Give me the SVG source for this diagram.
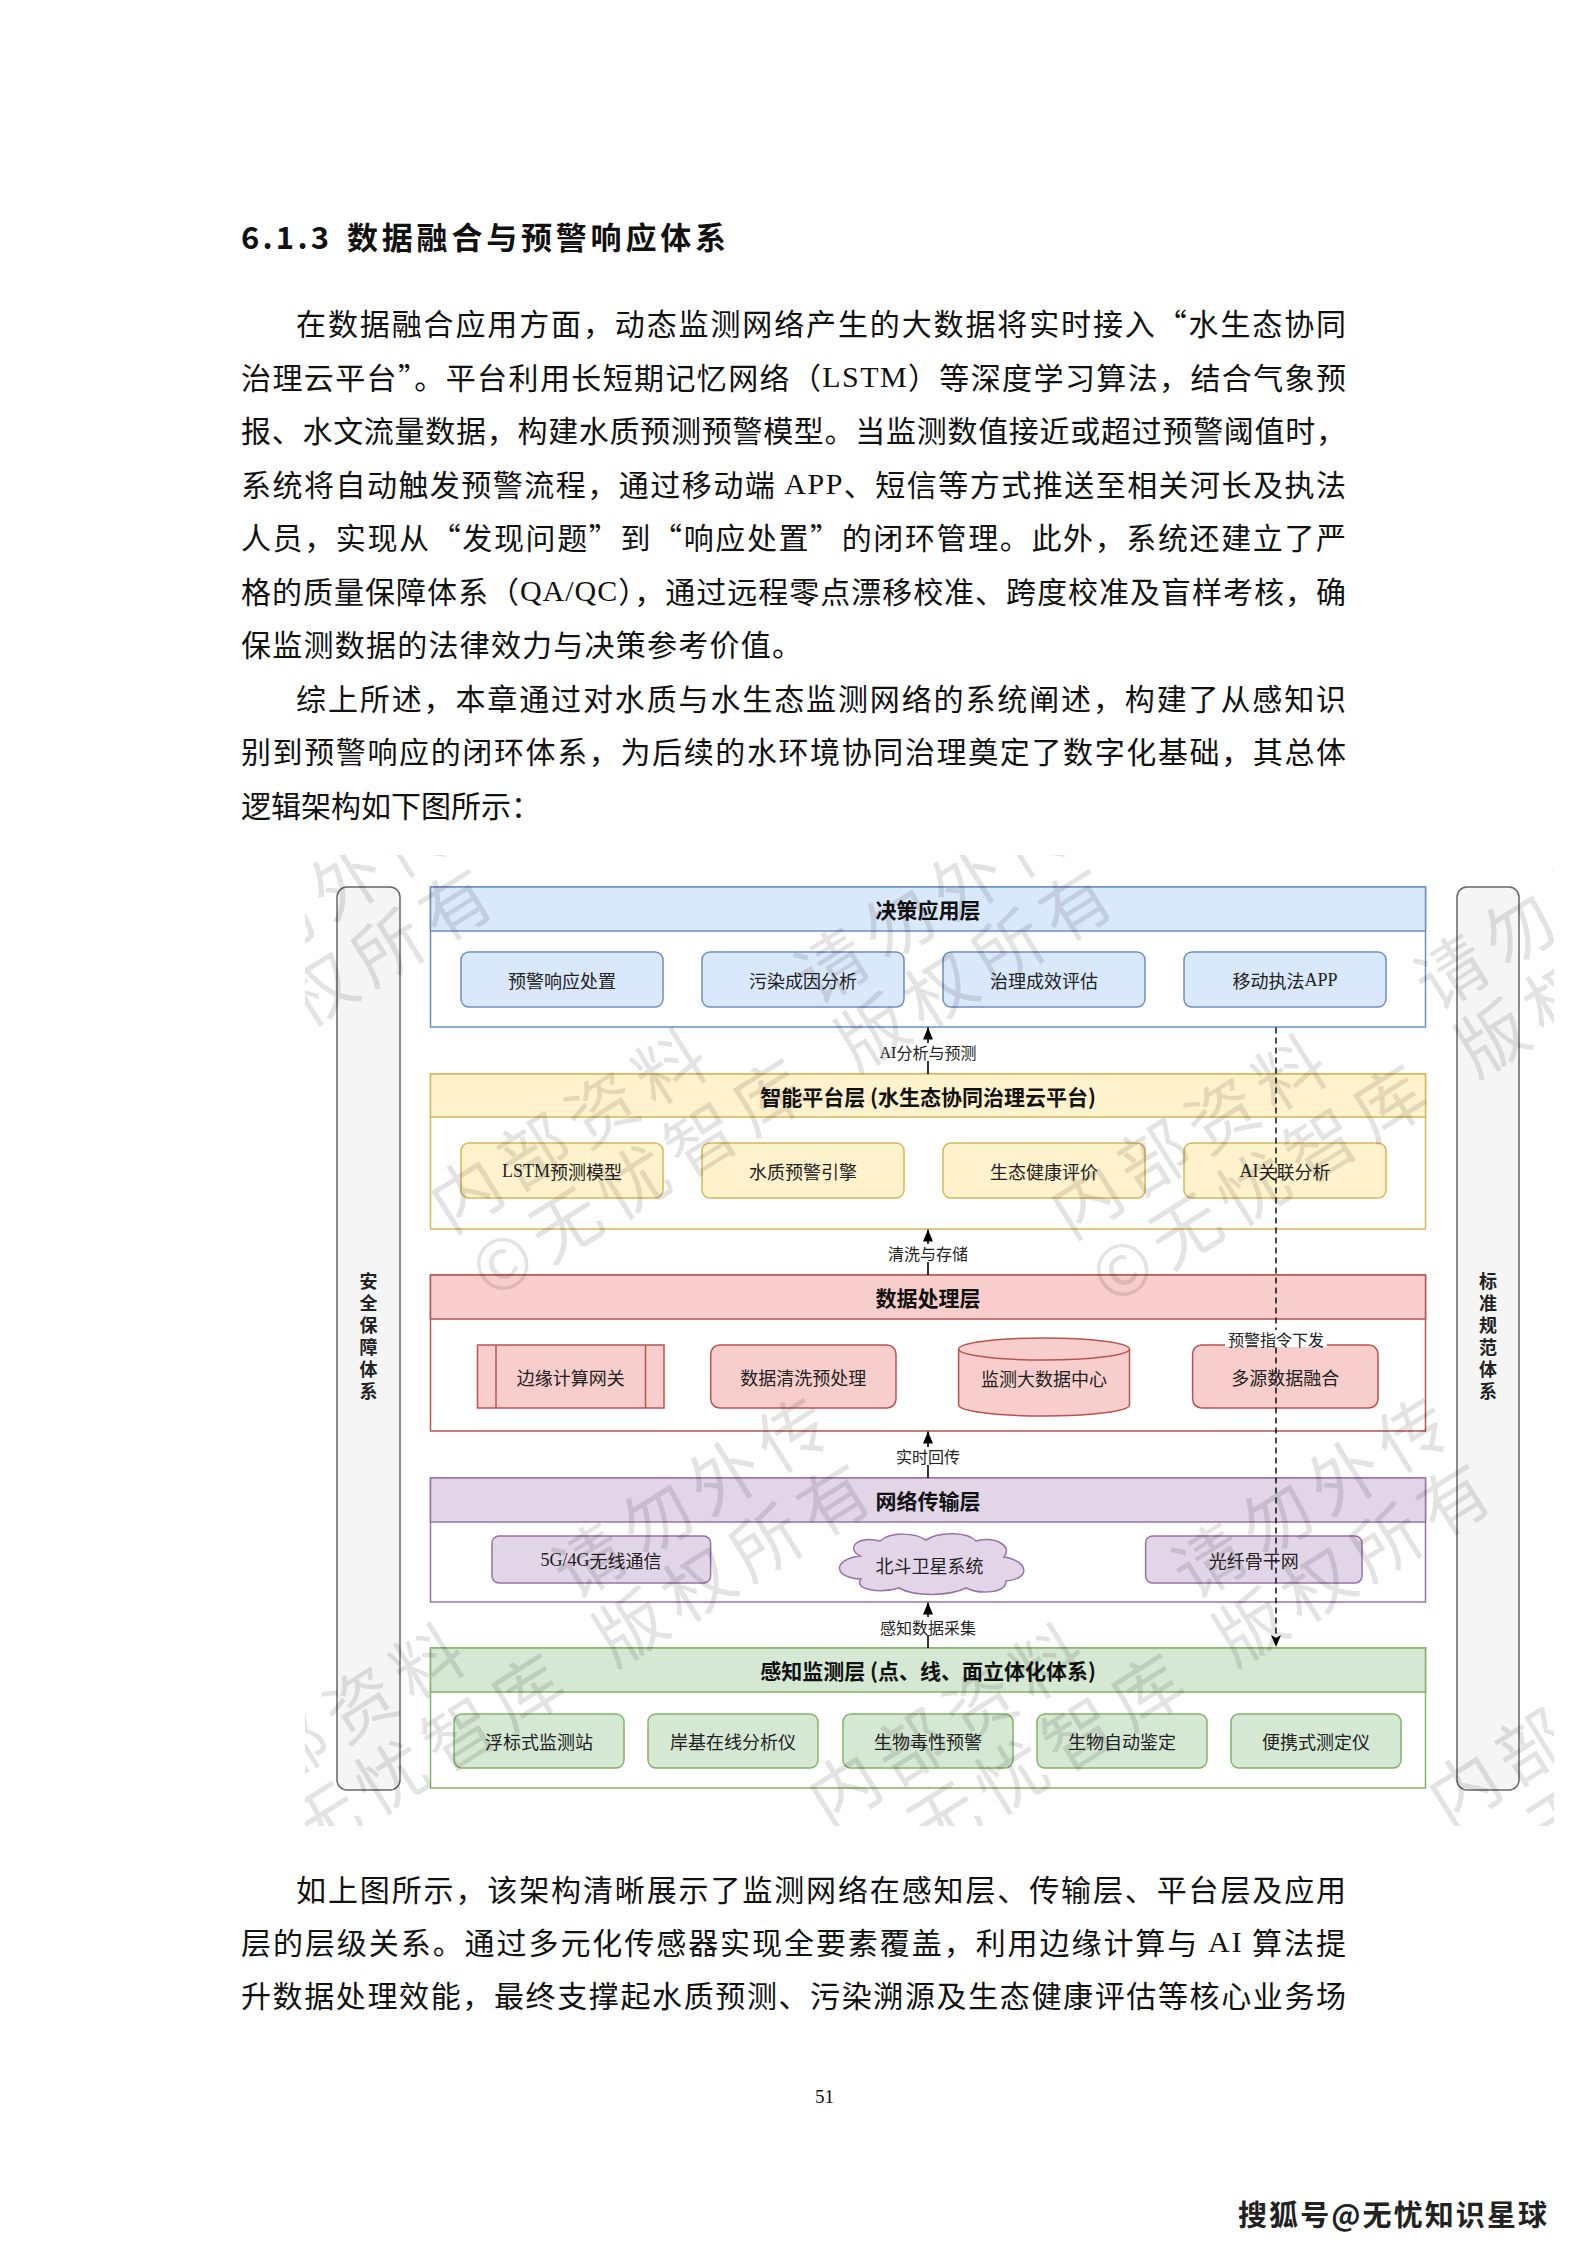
<svg xmlns="http://www.w3.org/2000/svg" width="1587" height="2245" viewBox="0 0 1587 2245">
<style>
.body{font-family:"Noto Sans CJK SC",sans-serif;font-size:30px;fill:#111;dominant-baseline:central}
.lat{font-family:"Liberation Serif",serif}
.head{font-family:"Noto Sans CJK SC",sans-serif;font-size:31px;font-weight:bold;fill:#111;dominant-baseline:central}
.t{font-family:"Noto Sans CJK SC",sans-serif;font-size:18px;fill:#222;text-anchor:middle;dominant-baseline:central}
.ttl{font-family:"Noto Sans CJK SC",sans-serif;font-size:21px;font-weight:bold;fill:#111;text-anchor:middle;dominant-baseline:central}
.lbl{font-family:"Noto Sans CJK SC",sans-serif;font-size:16px;fill:#222;text-anchor:middle;dominant-baseline:central}
.vt{font-family:"Noto Sans CJK SC",sans-serif;font-size:18px;font-weight:bold;fill:#222;text-anchor:middle;writing-mode:vertical-rl;letter-spacing:4px}
.bar{fill:#f5f5f5;stroke:#666;stroke-width:1.5}
.bH{fill:#dae8fc;stroke:#6c8ebf;stroke-width:1.5}
.bB{fill:#fff;stroke:#6c8ebf;stroke-width:1.5}
.yH{fill:#fff2cc;stroke:#d6b656;stroke-width:1.5}
.yB{fill:#fff;stroke:#d6b656;stroke-width:1.5}
.rH{fill:#f8cecc;stroke:#b85450;stroke-width:1.5}
.rB{fill:#fff;stroke:#b85450;stroke-width:1.5}
.pH{fill:#e1d5e7;stroke:#9673a6;stroke-width:1.5}
.pB{fill:#fff;stroke:#9673a6;stroke-width:1.5}
.gH{fill:#d5e8d4;stroke:#82b366;stroke-width:1.5}
.gB{fill:#fff;stroke:#82b366;stroke-width:1.5}
.conn{fill:none;stroke:#000;stroke-width:1.6}
.dash{fill:none;stroke:#000;stroke-width:1.4;stroke-dasharray:6 4}
.wm{font-family:"Noto Sans CJK SC",sans-serif;font-size:70px;letter-spacing:10px;fill:#000;fill-opacity:0.11}
</style>
<defs>
<marker id="blk" viewBox="0 0 12 12" refX="12" refY="6" markerWidth="12" markerHeight="12" markerUnits="userSpaceOnUse" orient="auto"><path d="M0,1 L12,6 L0,11 Z" fill="#000"/></marker>
<marker id="cls" viewBox="0 0 12 10" refX="12" refY="5" markerWidth="12" markerHeight="10" markerUnits="userSpaceOnUse" orient="auto"><path d="M0,0 L12,5 L0,10 L3,5 Z" fill="#000"/></marker>
<clipPath id="wmclip"><rect x="305" y="855" width="1249" height="971"/></clipPath>
</defs>
<rect width="1587" height="2245" fill="#fff"/>

<g id="page-text">
<text class="head" x="241" y="235" textLength="88">6.1.3</text>
<text class="head" x="347" y="235" textLength="379">数据融合与预警响应体系</text>
<text class="body" x="296" y="322" textLength="1050">在数据融合应用方面，动态监测网络产生的大数据将实时接入“水生态协同</text>
<text class="body" x="241" y="375.5" textLength="1105">治理云平台”。平台利用长短期记忆网络（<tspan class="lat">LSTM</tspan>）等深度学习算法，结合气象预</text>
<text class="body" x="241" y="429" textLength="1105">报、水文流量数据，构建水质预测预警模型。当监测数值接近或超过预警阈值时，</text>
<text class="body" x="241" y="482.5" textLength="1105">系统将自动触发预警流程，通过移动端 <tspan class="lat">APP</tspan>、短信等方式推送至相关河长及执法</text>
<text class="body" x="241" y="536" textLength="1105">人员，实现从“发现问题”到“响应处置”的闭环管理。此外，系统还建立了严</text>
<text class="body" x="241" y="589.5" textLength="1105">格的质量保障体系（<tspan class="lat">QA/QC</tspan>），通过远程零点漂移校准、跨度校准及盲样考核，确</text>
<text class="body" x="241" y="643" textLength="561">保监测数据的法律效力与决策参考价值。</text>
<text class="body" x="296" y="696.5" textLength="1050">综上所述，本章通过对水质与水生态监测网络的系统阐述，构建了从感知识</text>
<text class="body" x="241" y="750" textLength="1105">别到预警响应的闭环体系，为后续的水环境协同治理奠定了数字化基础，其总体</text>
<text class="body" x="241" y="803.5" textLength="300">逻辑架构如下图所示：</text>
<text class="body" x="296" y="1887.5" textLength="1050">如上图所示，该架构清晰展示了监测网络在感知层、传输层、平台层及应用</text>
<text class="body" x="241" y="1941" textLength="1105">层的层级关系。通过多元化传感器实现全要素覆盖，利用边缘计算与 <tspan class="lat">AI</tspan> 算法提</text>
<text class="body" x="241" y="1994" textLength="1105">升数据处理效能，最终支撑起水质预测、污染溯源及生态健康评估等核心业务场</text>
<text x="824.5" y="2096" font-family="Liberation Serif, serif" font-size="19" fill="#111" text-anchor="middle" dominant-baseline="central">51</text>
<text x="1238" y="2213" font-family="Noto Sans CJK SC, sans-serif" font-size="29" font-weight="bold" fill="#222" dominant-baseline="central" textLength="309">搜狐号@无忧知识星球</text>
</g>

<g id="security-bar">
<rect class="bar" x="337" y="887" width="63" height="903" rx="10"/>
<text class="vt" x="368.5" y="1338">安全保障体系</text>
</g>
<g id="standard-bar">
<rect class="bar" x="1457" y="887" width="62" height="903" rx="10"/>
<text class="vt" x="1488" y="1338">标准规范体系</text>
</g>

<g id="layer-decision">
<rect class="bB" x="430.5" y="887" width="995" height="140"/>
<rect class="bH" x="430.5" y="887" width="995" height="44"/>
<text class="ttl" x="928" y="909">决策应用层</text>
</g>
<g id="n-warn-response"><rect class="bH" x="461" y="952" width="202" height="55" rx="8"/><text class="t" x="562" y="979.5">预警响应处置</text></g>
<g id="n-pollution-cause"><rect class="bH" x="702" y="952" width="202" height="55" rx="8"/><text class="t" x="803" y="979.5">污染成因分析</text></g>
<g id="n-effect-eval"><rect class="bH" x="943" y="952" width="202" height="55" rx="8"/><text class="t" x="1044" y="979.5">治理成效评估</text></g>
<g id="n-mobile-app"><rect class="bH" x="1184" y="952" width="202" height="55" rx="8"/><text class="t" x="1285" y="979.5">移动执法<tspan class="lat">APP</tspan></text></g>

<g id="layer-platform">
<rect class="yB" x="430.5" y="1074" width="995" height="155"/>
<rect class="yH" x="430.5" y="1074" width="995" height="43"/>
<text class="ttl" x="928" y="1095.5">智能平台层 (水生态协同治理云平台)</text>
</g>
<g id="n-lstm"><rect class="yH" x="461" y="1143" width="202" height="55" rx="8"/><text class="t" x="562" y="1170.5"><tspan class="lat">LSTM</tspan>预测模型</text></g>
<g id="n-wq-engine"><rect class="yH" x="702" y="1143" width="202" height="55" rx="8"/><text class="t" x="803" y="1170.5">水质预警引擎</text></g>
<g id="n-eco-health"><rect class="yH" x="943" y="1143" width="202" height="55" rx="8"/><text class="t" x="1044" y="1170.5">生态健康评价</text></g>
<g id="n-ai-assoc"><rect class="yH" x="1184" y="1143" width="202" height="55" rx="8"/><text class="t" x="1285" y="1170.5"><tspan class="lat">AI</tspan>关联分析</text></g>

<g id="layer-processing">
<rect class="rB" x="430.5" y="1275" width="995" height="156"/>
<rect class="rH" x="430.5" y="1275" width="995" height="44"/>
<text class="ttl" x="928" y="1297">数据处理层</text>
</g>
<g id="n-edge-gateway"><rect class="rH" x="477.5" y="1345" width="186.5" height="63"/><line x1="496" y1="1345" x2="496" y2="1408" stroke="#b85450" stroke-width="1.5"/><line x1="645.5" y1="1345" x2="645.5" y2="1408" stroke="#b85450" stroke-width="1.5"/><text class="t" x="570.7" y="1376.5">边缘计算网关</text></g>
<g id="n-cleaning"><rect class="rH" x="710.7" y="1345" width="185.3" height="63" rx="9"/><text class="t" x="803.3" y="1376.5">数据清洗预处理</text></g>
<g id="n-bigdata-center"><path class="rH" d="M958.6,1349 A85.45,11 0 0 1 1129.5,1349 V1405 A85.45,11 0 0 1 958.6,1405 Z"/><path d="M958.6,1349 A85.45,11 0 0 0 1129.5,1349" fill="none" stroke="#b85450" stroke-width="1.5"/><text class="t" x="1044" y="1378">监测大数据中心</text></g>
<g id="n-fusion"><rect class="rH" x="1192.6" y="1345" width="185.4" height="63" rx="9"/><text class="t" x="1285.3" y="1377">多源数据融合</text></g>

<g id="layer-network">
<rect class="pB" x="430.5" y="1478" width="995" height="124"/>
<rect class="pH" x="430.5" y="1478" width="995" height="44"/>
<text class="ttl" x="928" y="1500">网络传输层</text>
</g>
<g id="n-5g4g"><rect class="pH" x="492" y="1536" width="218.6" height="47" rx="7"/><text class="t" x="601" y="1559.5"><tspan class="lat">5G/4G</tspan>无线通信</text></g>
<g id="n-beidou"><path class="pH" d="M860,1556 C845,1548 858,1535 880,1541 C892,1531 915,1533 926,1540 C940,1531 968,1532 976,1541 C996,1536 1013,1546 1004,1557 C1029,1561 1031,1579 1006,1581 C1006,1593 981,1595 966,1588 C950,1596 915,1597 899,1588 C879,1594 853,1589 861,1579 C834,1578 831,1560 860,1556 Z"/><text class="t" x="929.5" y="1565">北斗卫星系统</text></g>
<g id="n-fiber"><rect class="pH" x="1145.6" y="1536" width="216.4" height="47" rx="7"/><text class="t" x="1253.8" y="1559.5">光纤骨干网</text></g>

<g id="layer-sensing">
<rect class="gB" x="430.5" y="1648" width="995" height="140"/>
<rect class="gH" x="430.5" y="1648" width="995" height="44"/>
<text class="ttl" x="928" y="1670">感知监测层 (点、线、面立体化体系)</text>
</g>
<g id="n-buoy"><rect class="gH" x="454" y="1714" width="170" height="54" rx="8"/><text class="t" x="539" y="1741">浮标式监测站</text></g>
<g id="n-shore"><rect class="gH" x="648" y="1714" width="170" height="54" rx="8"/><text class="t" x="733" y="1741">岸基在线分析仪</text></g>
<g id="n-biotox"><rect class="gH" x="843" y="1714" width="170" height="54" rx="8"/><text class="t" x="928" y="1741">生物毒性预警</text></g>
<g id="n-bioid"><rect class="gH" x="1037" y="1714" width="170" height="54" rx="8"/><text class="t" x="1122" y="1741">生物自动鉴定</text></g>
<g id="n-portable"><rect class="gH" x="1231" y="1714" width="170" height="54" rx="8"/><text class="t" x="1316" y="1741">便携式测定仪</text></g>

<g id="connectors">
<path class="conn" d="M928,1074 V1027.5" marker-end="url(#blk)"/>
<rect x="876" y="1043" width="104" height="18" fill="#fff"/>
<text class="lbl" x="928" y="1052"><tspan class="lat">AI</tspan>分析与预测</text>
<path class="conn" d="M928,1275 V1229.5" marker-end="url(#blk)"/>
<rect x="886" y="1244" width="84" height="18" fill="#fff"/>
<text class="lbl" x="928" y="1253">清洗与存储</text>
<path class="conn" d="M928,1478 V1431.5" marker-end="url(#blk)"/>
<rect x="893" y="1447" width="70" height="18" fill="#fff"/>
<text class="lbl" x="928" y="1456">实时回传</text>
<path class="conn" d="M928,1648 V1602.5" marker-end="url(#blk)"/>
<rect x="877" y="1617" width="102" height="18" fill="#fff"/>
<text class="lbl" x="928" y="1626.5">感知数据采集</text>
<path class="dash" d="M1276,1027.5 V1647" marker-end="url(#cls)"/>
<rect x="1225" y="1330" width="102" height="17" fill="#fff"/>
<text class="lbl" x="1276" y="1339">预警指令下发</text>
</g>

<g id="watermark" clip-path="url(#wmclip)">
<g transform="translate(-156,1200) rotate(-32)"><text class="wm" x="400" y="22">请勿外传</text><text class="wm" x="400" y="100">版权所有</text></g>
<g transform="translate(464,1200) rotate(-32)"><text class="wm" x="-30" y="22">内部资料</text><text class="wm" x="400" y="22">请勿外传</text><text class="wm" x="-30" y="100">©无忧智库</text><text class="wm" x="400" y="100">版权所有</text></g>
<g transform="translate(1084,1206) rotate(-32)"><text class="wm" x="-30" y="22">内部资料</text><text class="wm" x="400" y="22">请勿外传</text><text class="wm" x="-30" y="100">©无忧智库</text><text class="wm" x="400" y="100">版权所有</text></g>
<g transform="translate(222,1795) rotate(-32)"><text class="wm" x="-30" y="22">内部资料</text><text class="wm" x="400" y="22">请勿外传</text><text class="wm" x="-30" y="100">©无忧智库</text><text class="wm" x="400" y="100">版权所有</text></g>
<g transform="translate(842,1795) rotate(-32)"><text class="wm" x="-30" y="22">内部资料</text><text class="wm" x="400" y="22">请勿外传</text><text class="wm" x="-30" y="100">©无忧智库</text><text class="wm" x="400" y="100">版权所有</text></g>
<g transform="translate(1462,1795) rotate(-32)"><text class="wm" x="-30" y="22">内部资料</text><text class="wm" x="400" y="22">请勿外传</text><text class="wm" x="-30" y="100">©无忧智库</text><text class="wm" x="400" y="100">版权所有</text></g>
</g>
</svg>
